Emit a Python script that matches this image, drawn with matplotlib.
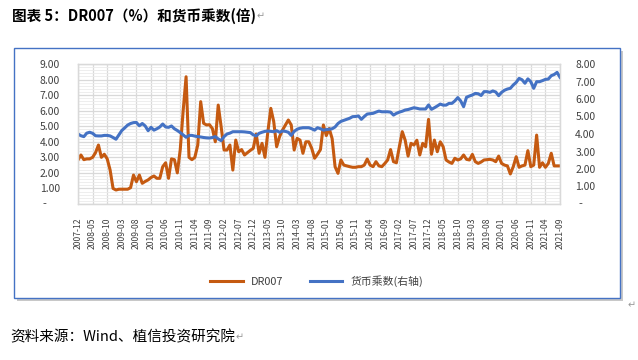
import numpy as np
import pandas as pd
import matplotlib
matplotlib.use('Agg')
import matplotlib.pyplot as plt
from matplotlib.patches import Rectangle
from matplotlib.lines import Line2D
from matplotlib.ticker import MultipleLocator, FuncFormatter

plt.rcParams['font.family'] = ['Noto Sans CJK SC', 'DejaVu Sans']

# monthly, 2007-12 .. 2021-09
months = pd.period_range('2007-12', '2021-09', freq='M').strftime('%Y-%m').tolist()

dr007 = [2.83, 3.15, 2.85, 2.9, 2.9, 3.0, 3.3, 3.79, 3.0, 3.2,
         2.9, 2.18, 1.0, 0.9, 0.95, 0.95, 0.95, 0.95, 1.05, 1.86,
         1.43, 1.86, 1.33, 1.45, 1.55, 1.7, 1.8, 1.65, 1.65, 2.4,
         2.65, 1.65, 2.9, 2.85, 2.0, 3.5, 6.0, 8.18, 3.0, 2.85,
         3.0, 3.8, 6.58, 5.19, 5.08, 5.1, 4.85, 4.0, 6.36, 4.97,
         3.47, 3.47, 3.79, 2.18, 4.11, 3.36, 3.5, 3.15, 3.3, 3.45,
         3.58, 4.5, 3.26, 3.9, 3.0, 4.65, 6.15, 5.3, 3.68, 4.33,
         4.75, 5.08, 5.4, 5.08, 3.47, 4.22, 4.11, 3.26, 4.0, 4.0,
         3.58, 2.94, 3.2, 3.5, 5.08, 4.4, 4.85, 4.2, 2.4, 1.97,
         2.83, 2.5, 2.45, 2.4, 2.36, 2.36, 2.4, 2.4, 2.5, 2.89,
         2.5, 2.4, 2.72, 2.45, 2.4, 2.6, 2.83, 3.5, 2.72, 2.65,
         3.68, 4.65, 4.1, 3.08, 3.9, 3.79, 4.1, 3.15, 3.9, 3.68,
         5.44, 3.2, 4.11, 3.36, 4.0, 3.68, 2.83, 2.7, 2.61, 2.94,
         2.83, 2.9, 3.15, 2.87, 2.83, 3.19, 2.72, 2.61, 2.7, 2.83,
         2.85, 2.87, 2.83, 2.72, 3.08, 2.61, 2.5, 2.45, 1.93, 2.4,
         3.04, 2.36, 2.45, 2.5, 3.43, 2.4, 2.5, 4.43, 2.36, 2.65,
         2.36, 2.61, 3.26, 2.45, 2.45, 2.45]

money_mult = [4.0, 3.9, 3.85, 4.05, 4.1, 4.04, 3.9, 3.89, 3.89, 3.92,
              3.92, 3.89, 3.8, 3.7, 3.95, 4.2, 4.35, 4.51, 4.6, 4.65,
              4.66, 4.47, 4.6, 4.46, 4.19, 4.38, 4.22, 4.3, 4.4, 4.57,
              4.4, 4.38, 4.46, 4.3, 4.2, 4.08, 3.95, 3.81, 3.92, 3.92,
              3.88, 3.85, 3.83, 3.8, 3.78, 3.77, 3.8, 3.85, 3.72, 3.62,
              3.85, 4.0, 4.05, 4.13, 4.13, 4.13, 4.13, 4.12, 4.1, 4.08,
              3.95, 3.89, 4.04, 4.1, 4.15, 4.17, 4.15, 4.13, 4.19, 4.1,
              4.17, 4.15, 4.1, 3.92, 4.15, 4.27, 4.33, 4.36, 4.36, 4.36,
              4.3, 4.22, 4.36, 4.3, 4.22, 4.25, 4.27, 4.3, 4.4, 4.6,
              4.72, 4.78, 4.84, 4.9, 4.99, 5.0, 5.03, 4.84, 5.0, 5.14,
              5.16, 5.18, 5.25, 5.31, 5.27, 5.27, 5.27, 5.25, 5.08, 5.18,
              5.25, 5.3, 5.37, 5.4, 5.45, 5.5, 5.47, 5.43, 5.43, 5.43,
              5.66, 5.41, 5.5, 5.6, 5.71, 5.65, 5.65, 5.75, 5.75, 5.89,
              6.08, 5.89, 5.56, 6.1, 6.17, 6.23, 6.32, 6.3, 6.2, 6.42,
              6.42, 6.38, 6.46, 6.4, 6.19, 6.38, 6.5, 6.57, 6.61, 6.8,
              6.95, 7.18, 7.1, 6.9, 7.15, 6.99, 6.61, 6.99, 6.99, 7.05,
              7.12, 7.14, 7.33, 7.4, 7.52, 7.24]

left_ticks = list(range(0, 10))
right_ticks = list(range(0, 9))

W, H = 638, 360
fig = plt.figure(figsize=(W / 100, H / 100), dpi=100)

# chart frame with a soft shadow
fx0, fx1, fy0, fy1 = 14, 620, 48, 298
fig.patches.append(Rectangle((fx0 / W + 3 / W, 1 - fy1 / H - 3 / H), (fx1 - fx0) / W, (fy1 - fy0) / H,
                             transform=fig.transFigure, facecolor='#C8C8C8', edgecolor='none', zorder=0))
fig.patches.append(Rectangle((fx0 / W, 1 - fy1 / H), (fx1 - fx0) / W, (fy1 - fy0) / H,
                             transform=fig.transFigure, facecolor='white', edgecolor='#4472C4',
                             lw=1.0, zorder=1))

ax = fig.add_axes([78 / W, 1 - 204 / H, 482 / W, 140 / H])
ax.set_zorder(2)
x = np.arange(len(months))
ax.plot(x, dr007, color='#C55A11', lw=2.2, solid_joinstyle='round')
ax.set_xlim(0, len(months) - 1)
ax.set_ylim(0, 9)

ax2 = ax.twinx()
ax2.plot(x, money_mult, color='#4472C4', lw=2.2, solid_joinstyle='round')
ax2.set_ylim(0, 8)

# grid
ax.set_yticks(left_ticks)
ax.yaxis.set_minor_locator(MultipleLocator(0.2))
ax.set_xticks(x[::5])
ax.set_xticklabels(months[::5], rotation=90, fontsize=6.2, color='#404040')
ax.grid(which='major', axis='both', color='#D9D9D9', lw=0.9)
ax.grid(which='minor', axis='y', color='#EBEBEB', lw=0.6)
ax.set_axisbelow(True)

ax.yaxis.set_major_formatter(FuncFormatter(lambda v, p: '' if v == 0 else f'{v:.2f}'))
ax2.set_yticks(right_ticks)
ax2.yaxis.set_major_formatter(FuncFormatter(lambda v, p: '' if v == 0 else f'{v:.2f}'))

ax.tick_params(axis='y', length=0, pad=13, labelsize=7.5, labelcolor='#404040')
ax.tick_params(axis='y', which='minor', length=0)
ax.tick_params(axis='x', length=0, pad=10)
ax2.tick_params(axis='y', length=0, pad=11, labelsize=7.5, labelcolor='#404040')

for a in (ax, ax2):
    for s in a.spines.values():
        s.set_color('#D9D9D9')
        s.set_linewidth(0.9)

# zero shown as dash (accounting format)
ax.text(-0.069, 0, '-', transform=ax.transAxes, ha='center', va='center', fontsize=8, color='#404040')
ax.text(1.042, 0, '-', transform=ax.transAxes, ha='center', va='center', fontsize=8, color='#404040')

handles = [Line2D([], [], color='#C55A11', lw=2.2), Line2D([], [], color='#4472C4', lw=2.2)]
fig.legend(handles, ['DR007', '货币乘数(右轴)'], loc='center', bbox_to_anchor=(317 / W, 1 - 281 / H),
           ncol=2, frameon=False, fontsize=7.8, handlelength=3.0, handletextpad=0.8,
           columnspacing=2.4, labelcolor='#404040')

title = fig.text(12 / W, 1 - 16 / H, '图表 5：DR007（%）和货币乘数(倍)', fontsize=10.5,
                 fontweight='bold', va='center', ha='left', color='black')
source = fig.text(10 / W, 1 - 337 / H, '资料来源：Wind、植信投资研究院', fontsize=10.5,
                  va='center', ha='left', color='black')

# paragraph marks
fig.canvas.draw()
r = fig.canvas.get_renderer()
for t in (title, source):
    bb = t.get_window_extent(r)
    fig.text(bb.x1 / W + 1 / W, (bb.y0 + bb.y1) / 2 / H, '↵', fontsize=7, color='#999999',
             va='center', ha='left', family='DejaVu Sans')
fig.text(632 / W, 1 - 305 / H, '↵', fontsize=7, color='#999999', va='center', ha='center',
         family='DejaVu Sans')

fig.savefig('out.png', dpi=100)
